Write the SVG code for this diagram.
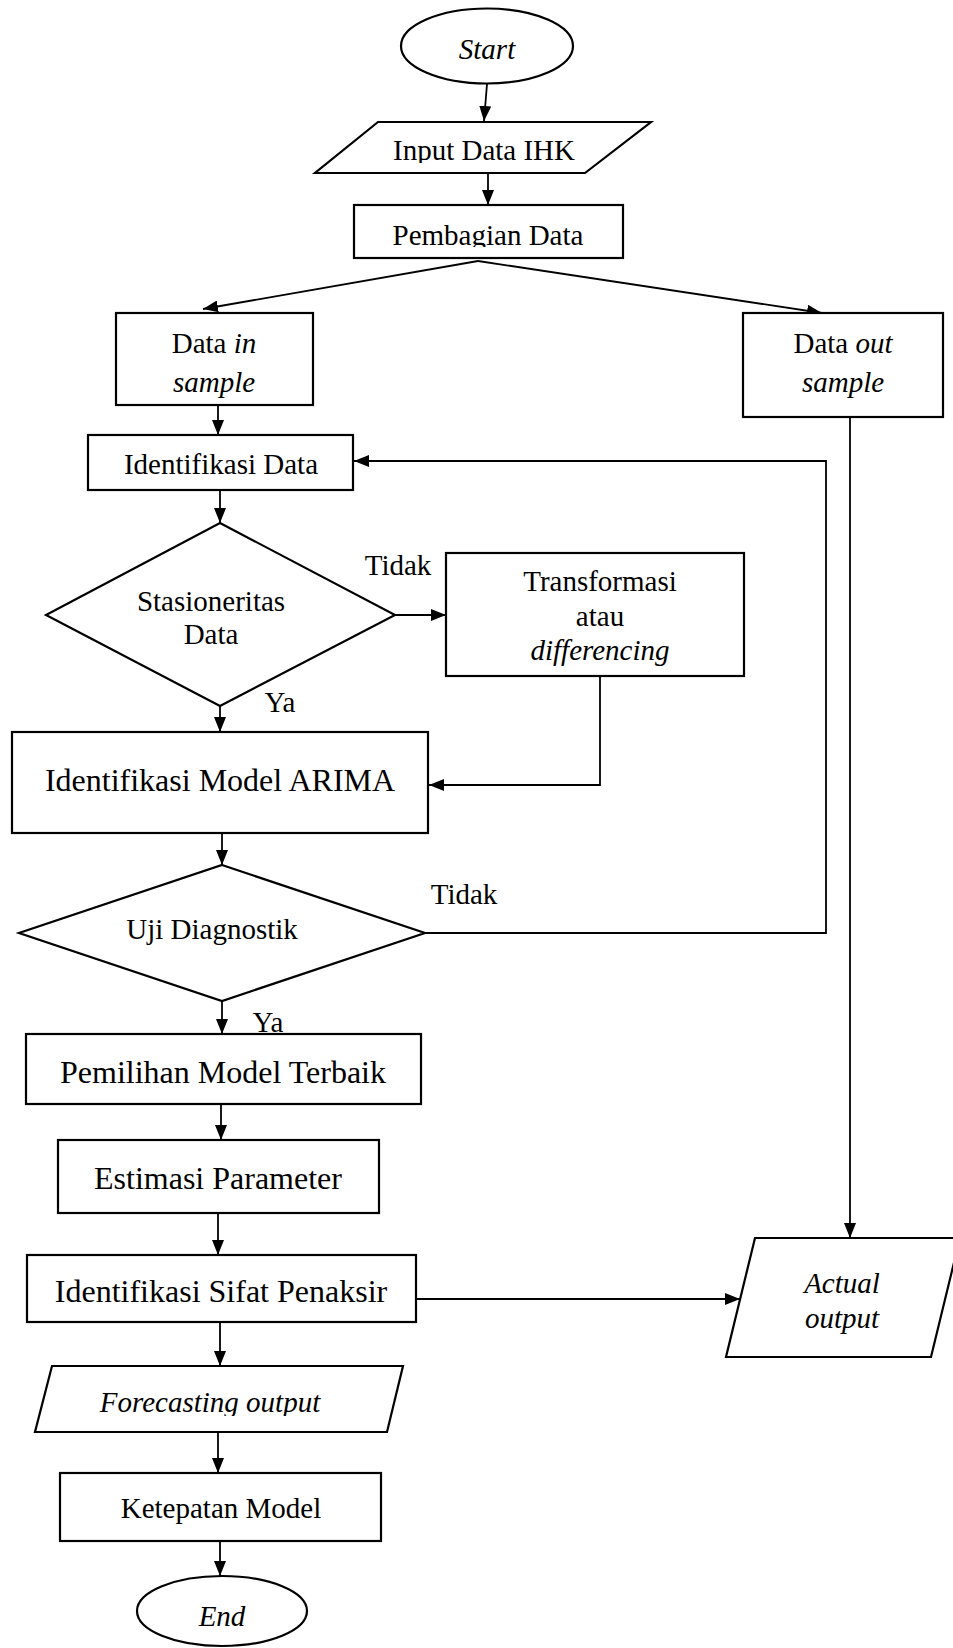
<svg xmlns="http://www.w3.org/2000/svg" width="953" height="1648" viewBox="0 0 953 1648">
<style>
.s{fill:#fff;stroke:#000;stroke-width:2.2}
.c{fill:none;stroke:#000;stroke-width:1.8}
text{font-family:"Liberation Serif","Times New Roman",serif;font-size:29px;fill:#000;text-anchor:middle}
.b{font-size:32px}
.i{font-style:italic}
</style>
<defs>
<marker id="ah" markerUnits="userSpaceOnUse" markerWidth="15" markerHeight="12" refX="15" refY="6" orient="auto"><path d="M0,0 L15,6 L0,12 z" fill="#000"/></marker>
<clipPath id="clipIn"><rect x="0" y="100" width="953" height="63"/></clipPath>
<clipPath id="clipPb"><rect x="0" y="200" width="953" height="47"/></clipPath>
<clipPath id="clipFc"><rect x="0" y="1360" width="953" height="56"/></clipPath>
</defs>
<rect width="953" height="1648" fill="#fff"/>
<g id="connectors">
<line class="c" x1="487" y1="84" x2="484" y2="121" marker-end="url(#ah)"/>
<line class="c" x1="488" y1="173" x2="488" y2="205" marker-end="url(#ah)"/>
<line class="c" x1="478" y1="261" x2="203" y2="309" marker-end="url(#ah)"/>
<line class="c" x1="478" y1="261" x2="822" y2="313" marker-end="url(#ah)"/>
<line class="c" x1="218" y1="405" x2="218" y2="435" marker-end="url(#ah)"/>
<line class="c" x1="220" y1="490" x2="220" y2="523" marker-end="url(#ah)"/>
<line class="c" x1="395" y1="615" x2="446" y2="615" marker-end="url(#ah)"/>
<line class="c" x1="220" y1="706" x2="220" y2="732" marker-end="url(#ah)"/>
<polyline class="c" points="600,676 600,785 429,785" marker-end="url(#ah)"/>
<line class="c" x1="222" y1="833" x2="222" y2="865" marker-end="url(#ah)"/>
<polyline class="c" points="425,933 826,933 826,461 354,461" marker-end="url(#ah)"/>
<line class="c" x1="222" y1="1001" x2="222" y2="1034" marker-end="url(#ah)"/>
<line class="c" x1="221" y1="1098" x2="221" y2="1140" marker-end="url(#ah)"/>
<line class="c" x1="218" y1="1210" x2="218" y2="1255" marker-end="url(#ah)"/>
<line class="c" x1="220" y1="1320" x2="220" y2="1366" marker-end="url(#ah)"/>
<line class="c" x1="416" y1="1299" x2="740" y2="1299" marker-end="url(#ah)"/>
<line class="c" x1="850" y1="417" x2="850" y2="1238" marker-end="url(#ah)"/>
<line class="c" x1="218" y1="1432" x2="218" y2="1473" marker-end="url(#ah)"/>
<line class="c" x1="220" y1="1541" x2="220" y2="1576" marker-end="url(#ah)"/>
</g>
<g id="start"><ellipse class="s" cx="487" cy="46" rx="86" ry="37.5"/><text class="i" x="487" y="59">Start</text></g>
<g id="input"><polygon class="s" points="378,122 651,122 585,173 315,173"/><text x="484" y="160" clip-path="url(#clipIn)">Input Data IHK</text></g>
<g id="pembagian"><rect class="s" x="354" y="205" width="269" height="53"/><text x="488" y="245" clip-path="url(#clipPb)">Pembagian Data</text></g>
<g id="datain"><rect class="s" x="116" y="313" width="197" height="92"/><text x="214" y="353">Data <tspan class="i">in</tspan></text><text class="i" x="214" y="392">sample</text></g>
<g id="dataout"><rect class="s" x="743" y="313" width="200" height="104"/><text x="843" y="353">Data <tspan class="i">out</tspan></text><text class="i" x="843" y="392">sample</text></g>
<g id="identdata"><rect class="s" x="88" y="435" width="265" height="55"/><text x="221" y="474">Identifikasi Data</text></g>
<g id="stasioner"><polygon class="s" points="220,523 395,615 220,706 46,615"/><text x="211" y="611">Stasioneritas</text><text x="211" y="644">Data</text></g>
<g id="labels1"><text x="398" y="575">Tidak</text><text x="280" y="712">Ya</text></g>
<g id="transform"><rect class="s" x="446" y="553" width="298" height="123"/><text x="600" y="591">Transformasi</text><text x="600" y="626">atau</text><text class="i" x="600" y="660">differencing</text></g>
<g id="arima"><rect class="s" x="12" y="732" width="416" height="101"/><text class="b" x="220" y="791">Identifikasi Model ARIMA</text></g>
<g id="uji"><polygon class="s" points="222,865 425,933 222,1001 19,933"/><text x="212" y="939">Uji Diagnostik</text></g>
<g id="labels2"><text x="464" y="904">Tidak</text><text x="268" y="1032">Ya</text></g>
<g id="pemilihan"><rect class="s" x="26" y="1034" width="395" height="70"/><text class="b" x="223" y="1083">Pemilihan Model Terbaik</text></g>
<g id="estimasi"><rect class="s" x="58" y="1140" width="321" height="73"/><text class="b" x="218" y="1189">Estimasi Parameter</text></g>
<g id="sifat"><rect class="s" x="27" y="1255" width="389" height="67"/><text class="b" x="221" y="1302">Identifikasi Sifat Penaksir</text></g>
<g id="actual"><polygon class="s" points="755,1238 960,1238 931,1357 726,1357"/><text class="i" x="842" y="1293">Actual</text><text class="i" x="842" y="1328">output</text></g>
<g id="forecast"><polygon class="s" points="52,1366 403,1366 387,1432 35,1432"/><text class="i" x="210" y="1412" clip-path="url(#clipFc)">Forecasting output</text></g>
<g id="ketepatan"><rect class="s" x="60" y="1473" width="321" height="68"/><text x="221" y="1518">Ketepatan Model</text></g>
<g id="end"><ellipse class="s" cx="222" cy="1611" rx="85" ry="35"/><text class="i" x="222" y="1626">End</text></g>
</svg>
